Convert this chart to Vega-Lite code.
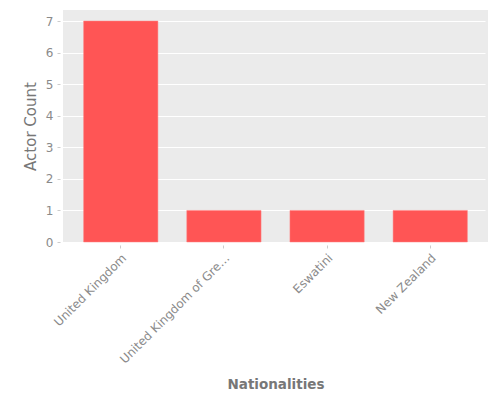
{
  "$schema": "https://vega.github.io/schema/vega-lite/v6.json",
  "width": 425,
  "height": 232,
  "autosize": {"type": "none"},
  "padding": {"left": 63, "top": 10, "right": 12, "bottom": 158},
  "background": "white",
  "data": {
    "values": [
      {"nationality": "United Kingdom", "count": 7},
      {"nationality": "United Kingdom of Great Britain and Northern Ireland", "count": 1},
      {"nationality": "Eswatini", "count": 1},
      {"nationality": "New Zealand", "count": 1}
    ]
  },
  "config": {
    "view": {"fill": "#ebebeb", "stroke": null},
    "font": "DejaVu Sans",
    "axis": {
      "labelColor": "#8a8a8a",
      "titleColor": "#777777",
      "tickColor": "#cccccc",
      "labelFontSize": 12,
      "titleFontSize": 14,
      "labelOverlap": false,
      "domain": false,
      "gridColor": "white",
      "gridWidth": 1,
      "tickSize": 3,
      "offset": 3,
      "labelPadding": 4
    }
  },
  "mark": {"type": "bar", "color": "#ff5555", "stroke": "#ff8080", "strokeWidth": 0.5},
  "encoding": {
    "x": {
      "field": "nationality",
      "type": "nominal",
      "sort": null,
      "title": "Nationalities",
      "scale": {"paddingInner": 0.28, "paddingOuter": 0.2},
      "axis": {"labelAngle": -45, "labelLimit": 155, "grid": false, "titlePadding": 12, "titleFontWeight": "bold", "titleFontSize": 13.5}
    },
    "y": {
      "field": "count",
      "type": "quantitative",
      "title": "Actor Count",
      "scale": {"domain": [0, 7.35]},
      "axis": {"values": [0, 1, 2, 3, 4, 5, 6, 7], "titlePadding": 7, "titleFontWeight": "normal", "titleFontSize": 15}
    }
  }
}
